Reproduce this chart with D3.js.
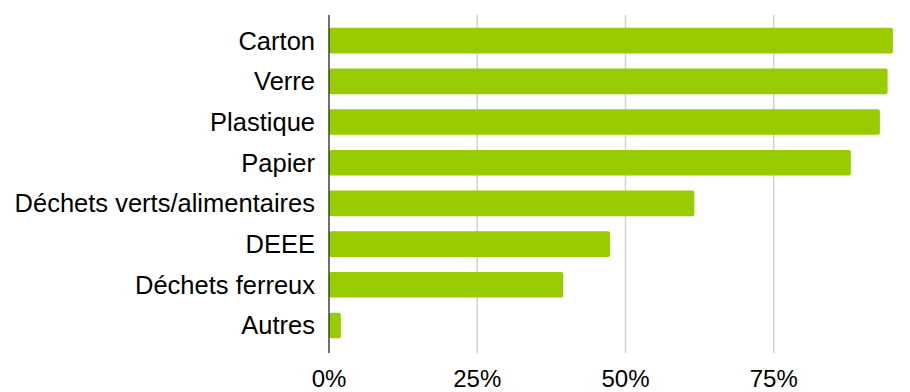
<!DOCTYPE html>
<html>
<head>
<meta charset="utf-8">
<script src="https://cdn.jsdelivr.net/npm/d3@7"></script>
<style>
  html, body { margin: 0; padding: 0; background: #fff; }
  svg { display: block; }
  text { font-family: "Liberation Sans", Arial, sans-serif; fill: #000; }
</style>
</head>
<body>
<svg id="chart" width="910" height="392"></svg>
<script>
// Share of each waste stream (percent)
const categories = ["Carton", "Verre", "Plastique", "Papier", "Déchets verts/alimentaires", "DEEE", "Déchets ferreux", "Autres"];
const values = [95.1, 94.2, 92.9, 88.0, 61.6, 47.4, 39.5, 2.0];
const tickValues = [0, 25, 50, 75];

const svg = d3.select("#chart");
const x0 = 329, xRight = 922;
const yTop = 20.3, yBottom = 345.8;

const x = d3.scaleLinear().domain([0, 100]).range([x0, xRight]);
const y = d3.scaleBand().domain(categories).range([yTop, yBottom]).paddingInner(0.37).paddingOuter(0.185);

// vertical gridlines
svg.append("g")
  .selectAll("line")
  .data(tickValues.filter(d => d > 0))
  .join("line")
  .attr("x1", d => x(d)).attr("x2", d => x(d))
  .attr("y1", 15).attr("y2", 353)
  .attr("stroke", "#d4d4d4").attr("stroke-width", 1.5);

// bars with slightly rounded ends
svg.append("g")
  .selectAll("rect")
  .data(categories)
  .join("rect")
  .attr("x", x(0))
  .attr("y", d => y(d))
  .attr("width", (d, i) => x(values[i]) - x(0))
  .attr("height", y.bandwidth())
  .attr("rx", 2)
  .attr("fill", "#99cc00");

// category axis line
svg.append("line")
  .attr("x1", x0).attr("x2", x0)
  .attr("y1", 15).attr("y2", 353)
  .attr("stroke", "#222").attr("stroke-width", 1.3);

// category labels
svg.append("g")
  .selectAll("text")
  .data(categories)
  .join("text")
  .attr("x", x0 - 14)
  .attr("y", d => y(d) + y.bandwidth() / 2)
  .attr("dy", "0.35em")
  .attr("text-anchor", "end")
  .style("font-size", "25.5px")
  .text(d => d);

// percentage tick labels
svg.append("g")
  .selectAll("text")
  .data(tickValues)
  .join("text")
  .attr("x", d => x(d))
  .attr("y", 387)
  .attr("text-anchor", "middle")
  .style("font-size", "24px")
  .text(d => d + "%");
</script>
</body>
</html>
